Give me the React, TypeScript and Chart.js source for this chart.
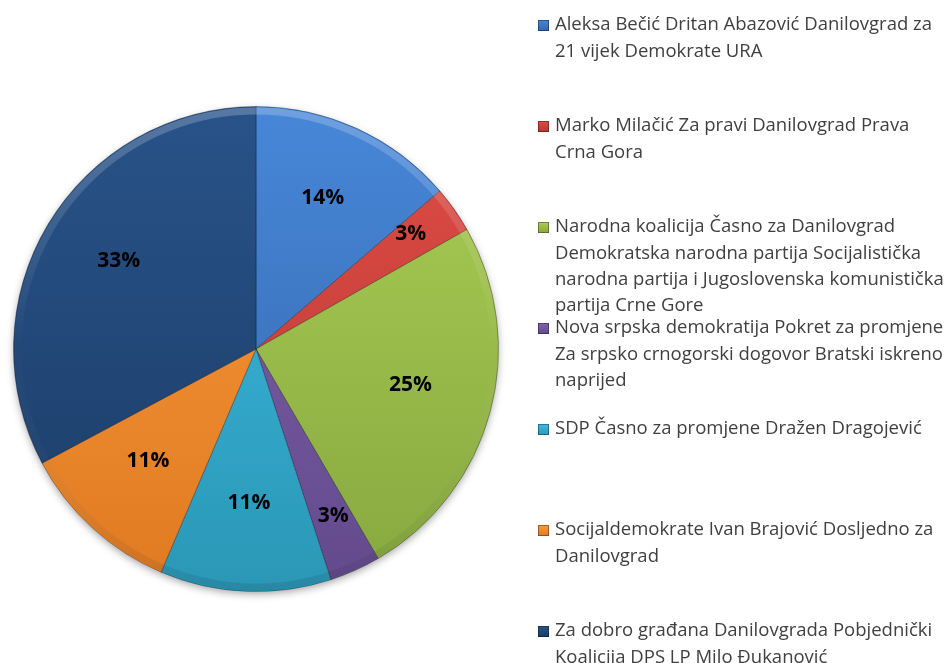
import React, { useEffect, useRef } from "react";
import { Chart, registerables } from "chart.js";

Chart.register(...registerables);

// ---- data ----
const CATEGORIES: string[][] = [
  ["Aleksa Bečić Dritan Abazović Danilovgrad za", "21 vijek Demokrate URA"],
  ["Marko Milačić Za pravi Danilovgrad Prava", "Crna Gora"],
  [
    "Narodna koalicija Časno za Danilovgrad",
    "Demokratska narodna partija Socijalistička",
    "narodna partija i Jugoslovenska komunistička",
    "partija Crne Gore",
  ],
  [
    "Nova srpska demokratija Pokret za promjene",
    "Za srpsko crnogorski dogovor Bratski iskreno",
    "naprijed",
  ],
  ["SDP Časno za promjene Dražen Dragojević"],
  ["Socijaldemokrate Ivan Brajović Dosljedno za", "Danilovgrad"],
  ["Za dobro građana Danilovgrada Pobjednički", "Koalicija DPS LP Milo Đukanović"],
];

const VALUES: number[] = [13.7, 3.1, 24.8, 3.4, 11.4, 10.8, 32.8];

// ---- styles ----
const TOP_COLORS = ["#4787d8", "#e04c46", "#aacd55", "#8062ae", "#3cbde2", "#f99a3a", "#285389"];
const BOTTOM_COLORS = ["#3466ab", "#b53832", "#87a83f", "#634a8c", "#2b97b6", "#e07a22", "#1c3c66"];

const LEGEND_FONT = "'Open Sans', Lato, 'DejaVu Sans', sans-serif";
const LABEL_FONT = "'Open Sans', Lato, 'DejaVu Sans', sans-serif";

const shadowPlugin = {
  id: "pieShadow",
  beforeDatasetsDraw(chart: any) {
    const meta = chart.getDatasetMeta(0);
    const arc = meta.data[0];
    if (!arc) return;
    const { x, y, outerRadius } = arc.getProps(["x", "y", "outerRadius"], true);
    const ctx = chart.ctx;
    ctx.save();
    ctx.shadowColor = "rgba(0,0,0,0.4)";
    ctx.shadowBlur = 9;
    ctx.shadowOffsetX = 0;
    ctx.shadowOffsetY = 3;
    ctx.fillStyle = "#ffffff";
    ctx.beginPath();
    ctx.arc(x, y, outerRadius - 1, 0, Math.PI * 2);
    ctx.fill();
    ctx.restore();
  },
};

const bevelPlugin = {
  id: "pieBevel",
  afterDatasetsDraw(chart: any) {
    const meta = chart.getDatasetMeta(0);
    const arc = meta.data[0];
    if (!arc) return;
    const { x, y, outerRadius } = arc.getProps(["x", "y", "outerRadius"], true);
    const ctx = chart.ctx;
    ctx.save();
    const g = ctx.createLinearGradient(0, y - outerRadius, 0, y + outerRadius);
    g.addColorStop(0, "rgba(255,255,255,0.22)");
    g.addColorStop(0.5, "rgba(255,255,255,0.0)");
    g.addColorStop(1, "rgba(0,0,0,0.10)");
    ctx.strokeStyle = g;
    ctx.lineWidth = 7;
    ctx.beginPath();
    ctx.arc(x, y, outerRadius - 4.5, 0, Math.PI * 2);
    ctx.stroke();
    ctx.restore();
  },
};

const percentPlugin = {
  id: "percentLabels",
  afterDatasetsDraw(chart: any) {
    const ctx = chart.ctx;
    const ds = chart.data.datasets[0];
    const total = (ds.data as number[]).reduce((a, b) => a + b, 0);
    const meta = chart.getDatasetMeta(0);
    ctx.save();
    ctx.font = `bold 21px ${LABEL_FONT}`;
    ctx.fillStyle = "#000000";
    ctx.textAlign = "center";
    ctx.textBaseline = "middle";
    meta.data.forEach((arc: any, i: number) => {
      const { x, y, startAngle, endAngle, outerRadius } = arc.getProps(
        ["x", "y", "startAngle", "endAngle", "outerRadius"],
        true
      );
      const pct = (ds.data[i] / total) * 100;
      const mid = (startAngle + endAngle) / 2;
      const frac = pct < 5 ? 0.78 : 0.66;
      const r = outerRadius * frac;
      ctx.fillText(`${Math.round(pct)}%`, x + Math.cos(mid) * r, y + Math.sin(mid) * r - 6);
    });
    ctx.restore();
  },
};

const legendPlugin = {
  id: "sideLegend",
  afterDraw(chart: any) {
    const ctx = chart.ctx;
    const labels = chart.data.labels as string[][];
    const boxX = 538;
    const boxSize = 11;
    const textX = 555;
    const firstY = 25;
    const itemStep = 101;
    const lineH = 26.4;
    ctx.save();
    ctx.font = `18.5px ${LEGEND_FONT}`;
    ctx.textBaseline = "middle";
    ctx.textAlign = "left";
    labels.forEach((lines, i) => {
      const y0 = firstY + i * itemStep;
      const by = Math.round(y0 - boxSize / 2 + 0.5);
      const g = ctx.createLinearGradient(0, by, 0, by + boxSize);
      g.addColorStop(0, TOP_COLORS[i]);
      g.addColorStop(1, BOTTOM_COLORS[i]);
      ctx.fillStyle = g;
      ctx.fillRect(boxX, by, boxSize, boxSize);
      ctx.strokeStyle = "rgba(0,0,0,0.35)";
      ctx.lineWidth = 1;
      ctx.strokeRect(boxX + 0.5, by + 0.5, boxSize - 1, boxSize - 1);
      ctx.fillStyle = "#404040";
      lines.forEach((ln, j) => {
        ctx.fillText(ln, textX, y0 + j * lineH);
      });
    });
    ctx.restore();
  },
};

export default function App() {
  const ref = useRef<HTMLCanvasElement | null>(null);

  useEffect(() => {
    if (!ref.current) return;
    const chart = new Chart(ref.current, {
      type: "pie",
      data: {
        labels: CATEGORIES as any,
        datasets: [
          {
            data: VALUES,
            backgroundColor: (c: any) => {
              const area = c.chart.chartArea;
              const i = c.dataIndex ?? 0;
              if (!area) return TOP_COLORS[i];
              const g = c.chart.ctx.createLinearGradient(0, area.top, 0, area.bottom);
              g.addColorStop(0, TOP_COLORS[i]);
              g.addColorStop(1, BOTTOM_COLORS[i]);
              return g;
            },
            borderColor: "rgba(0,0,0,0.3)",
            borderWidth: 1,
          },
        ],
      },
      options: {
        responsive: false,
        animation: false,
        layout: { padding: { left: 13, top: 106, right: 448, bottom: 71 } },
        plugins: {
          legend: { display: false },
          tooltip: { enabled: false },
        },
      },
      plugins: [shadowPlugin, bevelPlugin, percentPlugin, legendPlugin],
    });
    return () => chart.destroy();
  }, []);

  return (
    <div style={{ position: "fixed", left: 0, top: 0, width: 947, height: 663, background: "#ffffff" }}>
      <canvas ref={ref} width={947} height={663} style={{ display: "block" }} />
    </div>
  );
}
